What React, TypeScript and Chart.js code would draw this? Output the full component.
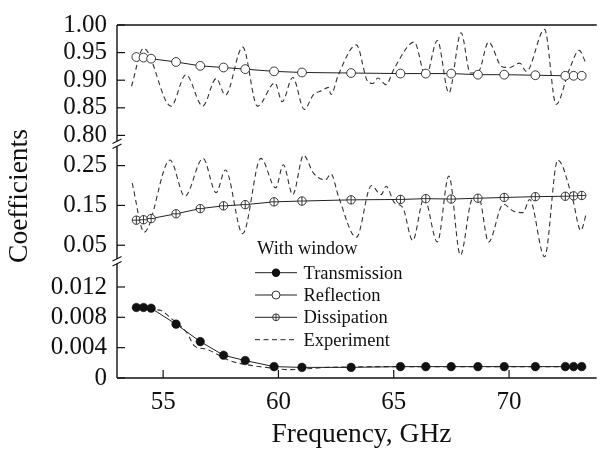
import React, { useEffect, useRef } from 'react';
import { Chart, registerables } from 'chart.js';
Chart.register(...registerables);

// ---- data ----
const modelFreq = [53.84, 54.15, 54.48, 55.56, 56.61, 57.62, 58.56, 59.81, 61.02, 63.15, 65.29, 66.39, 67.49, 68.65, 69.79, 71.14, 72.44, 72.8, 73.15];
const transmission = [0.0093, 0.0093, 0.0092, 0.0071, 0.0048, 0.003, 0.0023, 0.0015, 0.0014, 0.0014, 0.0015, 0.0015, 0.0015, 0.0015, 0.0015, 0.0015, 0.0015, 0.0015, 0.0015];
const reflection = [0.942, 0.941, 0.939, 0.933, 0.926, 0.923, 0.92, 0.916, 0.914, 0.913, 0.912, 0.912, 0.912, 0.91, 0.91, 0.909, 0.908, 0.908, 0.908];
const dissipation = [0.113, 0.114, 0.117, 0.129, 0.142, 0.149, 0.152, 0.159, 0.161, 0.164, 0.165, 0.167, 0.166, 0.168, 0.17, 0.172, 0.173, 0.174, 0.175];

const expReflFreq = [53.63, 54.15, 55.34, 55.99, 56.72, 57.3, 57.7, 58.45, 59.09, 59.85, 60.16, 60.62, 61.12, 61.52, 61.88, 62.17, 62.28, 62.6, 63.38, 63.88, 64.1, 64.31, 64.66, 65.03, 65.89, 66.39, 66.89, 67.39, 67.92, 68.32, 68.68, 69.11, 69.68, 70.02, 70.46, 70.75, 71.54, 72.04, 72.61, 73.04, 73.33];
const expRefl = [0.889, 0.958, 0.853, 0.91, 0.853, 0.903, 0.873, 0.96, 0.853, 0.895, 0.861, 0.905, 0.847, 0.874, 0.881, 0.887, 0.874, 0.91, 0.964, 0.897, 0.894, 0.904, 0.892, 0.922, 0.969, 0.907, 0.972, 0.877, 0.986, 0.913, 0.916, 0.969, 0.925, 0.923, 0.931, 0.916, 0.992, 0.856, 0.919, 0.954, 0.931];

const expDissFreq = [53.66, 54.18, 55.3, 55.94, 56.73, 57.3, 57.7, 58.45, 59.24, 59.88, 60.21, 60.62, 61.09, 61.52, 62.03, 62.28, 62.6, 63.38, 64.03, 64.45, 64.67, 65.03, 65.39, 65.82, 66.32, 66.89, 67.39, 67.89, 68.39, 68.68, 69.11, 69.75, 70.18, 70.61, 70.89, 71.54, 72.11, 72.76, 73.11, 73.36];
const expDiss = [0.206, 0.083, 0.264, 0.173, 0.268, 0.182, 0.239, 0.079, 0.268, 0.194, 0.252, 0.177, 0.276, 0.231, 0.214, 0.229, 0.173, 0.07, 0.2, 0.177, 0.198, 0.157, 0.145, 0.062, 0.169, 0.058, 0.224, 0.025, 0.165, 0.172, 0.058, 0.153, 0.136, 0.132, 0.165, 0.021, 0.264, 0.165, 0.087, 0.132];

const expTransFreq = [53.65, 54.66, 54.94, 55.37, 56.02, 56.37, 56.88, 57.3, 57.88, 58.73, 59.73, 60.45, 61.16, 62.17, 65.17, 69.0, 73.3];
const expTrans = [0.0093, 0.009, 0.00885, 0.0078, 0.006, 0.0042, 0.0038, 0.0032, 0.0023, 0.0017, 0.0013, 0.0011, 0.0012, 0.0014, 0.0015, 0.0015, 0.0015];

const xTicks = [55, 60, 65, 70];
const xTickLabels = ['55', '60', '65', '70'];
const reflTicks = [0.8, 0.85, 0.9, 0.95, 1.0];
const reflTickLabels = ['0.80', '0.85', '0.90', '0.95', '1.00'];
const dissTicks = [0.05, 0.15, 0.25];
const dissTickLabels = ['0.05', '0.15', '0.25'];
const transTicks = [0, 0.004, 0.008, 0.012];
const transTickLabels = ['0', '0.004', '0.008', '0.012'];

const legendTitle = 'With window';
const legendLabels = ['Transmission', 'Reflection', 'Dissipation', 'Experiment'];
const xTitle = 'Frequency, GHz';
const yTitle = 'Coefficients';

const FONT = '"Liberation Serif", "DejaVu Serif", serif';
const INK = '#111';

const pts = (xs: number[], ys: number[]) => xs.map((x, i) => ({ x, y: ys[i] }));

export default function App() {
  const ref = useRef<HTMLCanvasElement | null>(null);
  useEffect(() => {
    const canvas = ref.current!;

    const line = (ctx: CanvasRenderingContext2D, x1: number, y1: number, x2: number, y2: number) => {
      ctx.beginPath(); ctx.moveTo(x1, y1); ctx.lineTo(x2, y2); ctx.stroke();
    };

    const decor = {
      id: 'decor',
      afterDraw(chart: any) {
        const { ctx, chartArea } = chart;
        const L = chartArea.left, R = chartArea.right, T = chartArea.top, B = chartArea.bottom;
        const sR = chart.scales.yR, sD = chart.scales.yD, sT = chart.scales.yT, sX = chart.scales.x;
        ctx.save();
        ctx.strokeStyle = '#111';
        ctx.lineWidth = 1.4;
        line(ctx, L, T, R, T);
        line(ctx, L, B, R, B);
        const b1 = sR.bottom, b2 = sD.bottom;
        const g = 2.5;
        line(ctx, L, T, L, b1 - g);
        line(ctx, L, b1 + g, L, b2 - g);
        line(ctx, L, b2 + g, L, B);
        ctx.lineWidth = 1.1;
        for (const b of [b1, b2]) {
          for (const d of [-g, g]) {
            line(ctx, L - 4.5, b + d + 2.2, L + 4.5, b + d - 2.2);
          }
        }
        ctx.lineWidth = 1.2;
        const tk = 8;
        reflTicks.forEach(v => { const y = sR.getPixelForValue(v); line(ctx, L, y, L + tk, y); });
        dissTicks.forEach(v => { const y = sD.getPixelForValue(v); line(ctx, L, y, L + tk, y); });
        transTicks.forEach(v => { const y = sT.getPixelForValue(v); line(ctx, L, y, L + tk, y); });
        xTicks.forEach(v => { const x = sX.getPixelForValue(v); line(ctx, x, B, x, B - tk); });

        // titles
        ctx.fillStyle = INK;
        ctx.font = `27.5px ${FONT}`;
        ctx.textAlign = 'center';
        ctx.textBaseline = 'alphabetic';
        ctx.fillText(xTitle, 361.5, 441.5);
        ctx.save();
        ctx.translate(27, 196);
        ctx.rotate(-Math.PI / 2);
        ctx.fillText(yTitle, 0, 0);
        ctx.restore();

        // legend
        ctx.font = `18.5px ${FONT}`;
        ctx.textAlign = 'left';
        ctx.fillText(legendTitle, 257, 254);
        const x0 = 255, x1 = 297, xm = (x0 + x1) / 2, tx = 303.5;
        const rows = [272.7, 295, 317.3, 339.7];
        ctx.strokeStyle = '#222';
        rows.forEach((ry, i) => {
          ctx.lineWidth = 1;
          if (i === 3) ctx.setLineDash([5, 3.5]); else ctx.setLineDash([]);
          line(ctx, x0, ry, x1, ry);
          ctx.setLineDash([]);
          if (i === 0) {
            ctx.beginPath(); ctx.arc(xm, ry, 4.2, 0, Math.PI * 2); ctx.fillStyle = '#111'; ctx.fill();
          } else if (i === 1) {
            ctx.beginPath(); ctx.arc(xm, ry, 4, 0, Math.PI * 2); ctx.fillStyle = '#fff'; ctx.fill(); ctx.lineWidth = 0.9; ctx.stroke();
          } else if (i === 2) {
            const r = 3.4;
            ctx.beginPath(); ctx.arc(xm, ry, r, 0, Math.PI * 2); ctx.fillStyle = '#fff'; ctx.fill(); ctx.lineWidth = 0.9; ctx.stroke();
            line(ctx, xm - r, ry, xm + r, ry); line(ctx, xm, ry - r, xm, ry + r);
          }
          ctx.fillStyle = INK;
          ctx.fillText(legendLabels[i], tx, ry + 6);
        });
        ctx.restore();
      },
    };

    const tickFont = { family: FONT, size: 25 };
    const yCommon = (ticks: number[], labels: string[], min: number, max: number, weight: number) => ({
      type: 'linear' as const,
      position: 'left' as const,
      stack: 'coef',
      stackWeight: weight,
      min, max,
      grid: { display: false, drawTicks: false },
      border: { display: false },
      ticks: {
        autoSkip: false,
        padding: 10,
        color: INK,
        font: tickFont,
        callback: (_v: any, i: number) => labels[i],
      },
      afterBuildTicks: (s: any) => { s.ticks = ticks.map(v => ({ value: v })); },
      afterFit: (s: any) => { s.width = 117; },
    });

    const chart = new Chart(canvas, {
      type: 'line',
      data: {
        datasets: [
          { label: 'Transmission', data: pts(modelFreq, transmission), yAxisID: 'yT', borderColor: '#222', borderWidth: 1, pointRadius: 4.3, pointBackgroundColor: '#111', pointBorderColor: '#111', pointBorderWidth: 0.5, tension: 0, order: 1 },
          { label: 'Reflection', data: pts(modelFreq, reflection), yAxisID: 'yR', borderColor: '#222', borderWidth: 1, pointRadius: 4.4, pointBackgroundColor: '#fff', pointBorderColor: '#222', pointBorderWidth: 0.9, tension: 0, order: 1 },
          { label: 'Dissipation', data: pts(modelFreq, dissipation), yAxisID: 'yD', borderColor: '#222', borderWidth: 1, pointRadius: 4.2, pointBackgroundColor: '#fff', pointBorderColor: '#222', pointBorderWidth: 0.9, tension: 0, order: 1 },
          { label: 'DissipationCross', data: pts(modelFreq, dissipation), yAxisID: 'yD', showLine: false, pointStyle: 'cross', pointRadius: 4.2, pointBorderColor: '#222', pointBorderWidth: 0.9, order: 0 },
          { label: 'ExpT', data: pts(expTransFreq, expTrans), yAxisID: 'yT', borderColor: '#333', borderWidth: 1.1, borderDash: [5, 3.5], pointRadius: 0, cubicInterpolationMode: 'monotone', order: 2 },
          { label: 'ExpR', data: pts(expReflFreq, expRefl), yAxisID: 'yR', borderColor: '#333', borderWidth: 1.1, borderDash: [5, 3.5], pointRadius: 0, cubicInterpolationMode: 'monotone', order: 2 },
          { label: 'ExpD', data: pts(expDissFreq, expDiss), yAxisID: 'yD', borderColor: '#333', borderWidth: 1.1, borderDash: [5, 3.5], pointRadius: 0, cubicInterpolationMode: 'monotone', order: 2 },
        ],
      },
      options: {
        animation: false,
        responsive: false,
        devicePixelRatio: 1,
        layout: { padding: { top: 19, right: 1, left: 0, bottom: 0 } },
        plugins: { legend: { display: false }, tooltip: { enabled: false } },
        scales: {
          x: {
            type: 'linear',
            min: 53, max: 73.8,
            grid: { display: false, drawTicks: false },
            border: { display: false },
            ticks: { autoSkip: false, padding: 9, color: INK, font: tickFont, callback: (_v: any, i: number) => xTickLabels[i] },
            afterBuildTicks: (s: any) => { s.ticks = xTicks.map(v => ({ value: v })); },
            afterFit: (s: any) => { s.height = 71; },
          },
          yT: yCommon(transTicks, transTickLabels, 0, 0.0154, 118.8),
          yD: yCommon(dissTicks, dissTickLabels, 0.010, 0.305, 119.5),
          yR: yCommon(reflTicks, reflTickLabels, 0.785, 1.0, 120.7),
        } as any,
      },
      plugins: [decor],
    });
    return () => chart.destroy();
  }, []);

  return (
    <div style={{ position: 'fixed', left: 0, top: 0, width: 602, height: 449, background: '#fff' }}>
      <canvas ref={ref} width={602} height={449} style={{ width: 602, height: 449, display: 'block' }} />
    </div>
  );
}
